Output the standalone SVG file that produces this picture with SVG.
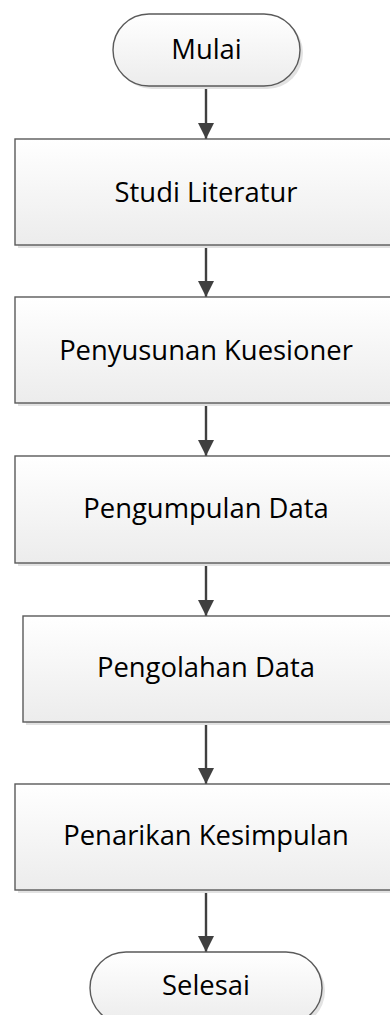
<svg xmlns="http://www.w3.org/2000/svg" width="390" height="1015" viewBox="0 0 390 1015">
<defs>
<linearGradient id="g" x1="0" y1="0" x2="0" y2="1">
<stop offset="0" stop-color="#ffffff"/>
<stop offset="1" stop-color="#ececec"/>
</linearGradient>
<marker id="arr" markerWidth="17" markerHeight="17" refX="16" refY="8" orient="auto" markerUnits="userSpaceOnUse">
<path d="M0,0 L16,8 L0,16 Z" fill="#404040"/>
</marker>
</defs>
<style>
.box{fill:url(#g);stroke:#5a5a5a;stroke-width:1.4}
.sh{fill:#e2e2e2}
.t{font-family:"Open Sans","Noto Sans",sans-serif;font-size:27.4px;fill:#000;text-anchor:middle}
.c{stroke:#404040;stroke-width:2.4;fill:none;marker-end:url(#arr)}
</style>
<rect width="390" height="1015" fill="#fff"/>
<g id="connectors">
<line class="c" x1="206" y1="86" x2="206" y2="139"/>
<line class="c" x1="206" y1="245" x2="206" y2="297"/>
<line class="c" x1="206" y1="403" x2="206" y2="456"/>
<line class="c" x1="206" y1="563" x2="206" y2="616"/>
<line class="c" x1="206" y1="722" x2="206" y2="784"/>
<line class="c" x1="206" y1="890" x2="206" y2="952"/>
</g>
<g id="mulai">
<rect class="sh" x="116" y="17" width="187" height="72" rx="36"/>
<rect class="box" x="113" y="14" width="187" height="72" rx="36"/>
<text class="t" x="206.5" y="59">Mulai</text>
</g>
<g id="studi">
<rect class="sh" x="18" y="142" width="400" height="106"/>
<rect class="box" x="15" y="139" width="400" height="106"/>
<text class="t" x="206" y="202">Studi Literatur</text>
</g>
<g id="penyusunan">
<rect class="sh" x="18" y="300" width="400" height="106"/>
<rect class="box" x="15" y="297" width="400" height="106"/>
<text class="t" x="206" y="360">Penyusunan Kuesioner</text>
</g>
<g id="pengumpulan">
<rect class="sh" x="18" y="459" width="400" height="107"/>
<rect class="box" x="15" y="456" width="400" height="107"/>
<text class="t" x="206" y="518">Pengumpulan Data</text>
</g>
<g id="pengolahan">
<rect class="sh" x="26" y="619" width="400" height="106"/>
<rect class="box" x="23" y="616" width="400" height="106"/>
<text class="t" x="206" y="677">Pengolahan Data</text>
</g>
<g id="penarikan">
<rect class="sh" x="18" y="787" width="400" height="106"/>
<rect class="box" x="15" y="784" width="400" height="106"/>
<text class="t" x="206" y="845">Penarikan Kesimpulan</text>
</g>
<g id="selesai">
<rect class="sh" x="93" y="955" width="232" height="72" rx="36"/>
<rect class="box" x="90" y="952" width="232" height="72" rx="36"/>
<text class="t" x="206" y="995">Selesai</text>
</g>
</svg>
